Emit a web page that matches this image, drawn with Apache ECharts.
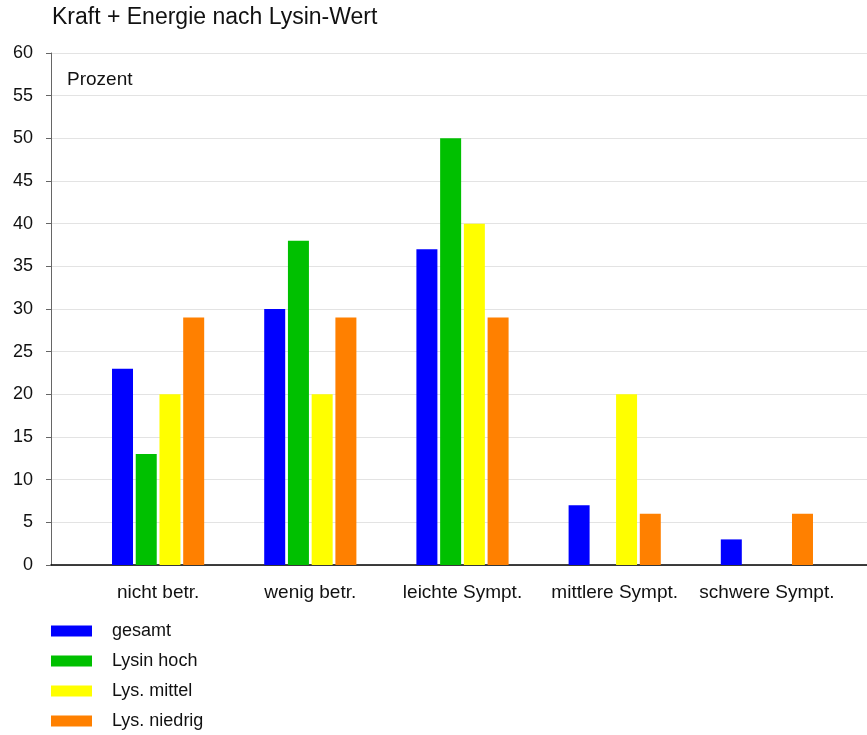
<!DOCTYPE html>
<html>
<head>
<meta charset="utf-8">
<script src="https://cdn.jsdelivr.net/npm/echarts@6/dist/echarts.min.js"></script>
<style>
    html, body { margin: 0; padding: 0; background: #fff; }
    #chart { width: 867px; height: 735px; }
</style>
</head>
<body>
<div id="chart"></div>
<script>
const categories = ['nicht betr.', 'wenig betr.', 'leichte Sympt.', 'mittlere Sympt.', 'schwere Sympt.'];
const gesamt = [23, 30, 37, 7, 3];
const lysinHoch = [13, 38, 50, 0, 0];
const lysMittel = [20, 20, 40, 20, 0];
const lysNiedrig = [29, 29, 29, 6, 6];
const yTicks = [0, 5, 10, 15, 20, 25, 30, 35, 40, 45, 50, 55, 60];

const font = '"Liberation Sans", Arial, sans-serif';
const chart = echarts.init(document.getElementById('chart'));

const bar = (name, data, color) => ({
    name: name,
    type: 'bar',
    xAxisIndex: 1,
    yAxisIndex: 1,
    data: data,
    barWidth: 21,
    barGap: '13%',
    itemStyle: { color: color },
    emphasis: { disabled: true }
});

const option = {
    animation: false,
    backgroundColor: '#fff',
    title: {
        text: 'Kraft + Energie nach Lysin-Wert',
        left: 47,
        top: 1,
        textStyle: { fontFamily: font, fontSize: 23, fontWeight: 'normal', color: '#111' }
    },
    legend: {
        orient: 'vertical',
        left: 46,
        top: 617,
        height: 118,
        itemWidth: 41,
        itemHeight: 11,
        itemGap: 12,
        icon: 'rect',
        textStyle: { fontFamily: font, fontSize: 18, color: '#111', lineHeight: 18, padding: [0, 0, 0, 15] }
    },
    graphic: [{
        type: 'text',
        left: 67,
        top: 70,
        style: { text: 'Prozent', font: '19px ' + font, fill: '#111' }
    }],
    grid: [
        { left: 51, right: 0, top: 53, bottom: 170 },
        { left: 82, width: 761, top: 53, bottom: 170 }
    ],
    xAxis: [
        {
            type: 'value', gridIndex: 0, min: 0, max: 1,
            axisLine: { show: true, onZero: false, lineStyle: { color: '#000', width: 1.5 } },
            axisTick: { show: false }, axisLabel: { show: false }, splitLine: { show: false }
        },
        {
            type: 'category', gridIndex: 1, data: categories,
            axisLine: { show: false }, axisTick: { show: false },
            axisLabel: { interval: 0, margin: 18, fontFamily: font, fontSize: 19, color: '#111' }
        }
    ],
    yAxis: [
        {
            type: 'value', gridIndex: 0, min: yTicks[0], max: yTicks[yTicks.length - 1], interval: 5,
            axisLine: { show: true, lineStyle: { color: '#666' } },
            axisTick: { show: true, length: 5, lineStyle: { color: '#666' } },
            axisLabel: { margin: 18, fontFamily: font, fontSize: 18, color: '#111' },
            splitLine: { show: true, lineStyle: { color: '#e3e3e3', width: 1 } }
        },
        {
            type: 'value', gridIndex: 1, min: 0, max: 60, show: false
        }
    ],
    series: [
        bar('gesamt', gesamt, '#0000ff'),
        bar('Lysin hoch', lysinHoch, '#00c000'),
        bar('Lys. mittel', lysMittel, '#ffff00'),
        bar('Lys. niedrig', lysNiedrig, '#ff8000')
    ]
};
chart.setOption(option);
</script>
</body>
</html>
